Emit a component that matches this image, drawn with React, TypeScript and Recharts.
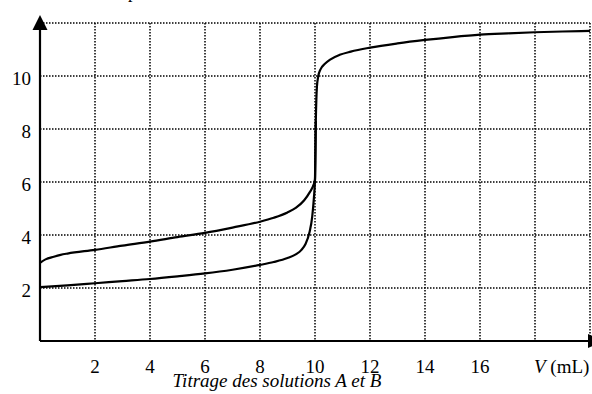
import {
  LineChart,
  Line,
  XAxis,
  YAxis,
  CartesianGrid,
  ReferenceDot,
} from "recharts";

// volume added (mL) and pH
const volA = [0, 0.2, 0.5, 0.75, 1, 2, 3, 4, 5, 6, 7, 8, 8.5, 9, 9.3, 9.6, 9.8, 9.95, 10.0, 10.03, 10.07, 10.12, 10.2, 10.35, 10.55, 10.9, 11.3, 12, 13, 14, 15, 16, 17, 18, 19, 20];
const phA = [2.95, 3.08, 3.18, 3.25, 3.3, 3.44, 3.6, 3.75, 3.92, 4.08, 4.28, 4.5, 4.65, 4.85, 5.02, 5.3, 5.6, 5.9, 6.1, 8.3, 9.6, 10.0, 10.25, 10.45, 10.62, 10.8, 10.92, 11.07, 11.23, 11.36, 11.47, 11.56, 11.61, 11.65, 11.68, 11.7];

const volB = [0, 1, 2, 3, 4, 5, 6, 7, 8, 8.5, 9, 9.3, 9.5, 9.65, 9.8, 9.9, 9.96, 10.0, 10.03];
const phB = [2.03, 2.1, 2.18, 2.26, 2.34, 2.44, 2.55, 2.69, 2.87, 2.98, 3.13, 3.27, 3.43, 3.65, 4.1, 4.7, 5.4, 6.1, 8.3];

const xTicks = [0, 2, 4, 6, 8, 10, 12, 14, 16, 18, 20];
const yTicks = [0, 2, 4, 6, 8, 10, 12];
const xLabels: Record<number, string> = { 2: "2", 4: "4", 6: "6", 8: "8", 10: "10", 12: "12", 14: "14", 16: "16" };
const yLabels: Record<number, string> = { 2: "2", 4: "4", 6: "6", 8: "8", 10: "10" };

const curveA = volA.map((v, i) => ({ v, ph: phA[i] }));
const curveB = volB.map((v, i) => ({ v, ph: phB[i] }));

const FONT = "'Liberation Serif', 'Times New Roman', serif";

function XTick({ x, y, payload }: any) {
  const val = payload.value as number;
  if (val === 18) {
    return (
      <text x={x - 1} y={y + 24} textAnchor="start" style={{ fontFamily: FONT, fontSize: 19 }} fill="#000">
        <tspan fontStyle="italic">V</tspan> (mL)
      </text>
    );
  }
  const label = xLabels[val];
  if (!label) return null;
  return (
    <text x={x} y={y + 24} textAnchor="middle" style={{ fontFamily: FONT, fontSize: 19 }} fill="#000">
      {label}
    </text>
  );
}

function YTick({ x, y, payload }: any) {
  const label = yLabels[payload.value as number];
  if (!label) return null;
  return (
    <text x={x - 1} y={y + 9} textAnchor="end" style={{ fontFamily: FONT, fontSize: 19 }} fill="#000">
      {label}
    </text>
  );
}

function UpArrow({ cx, cy }: any) {
  return <path d={`M${cx},${cy - 8} L${cx - 7.5},${cy + 7} L${cx + 7.5},${cy + 7} Z`} fill="#000" />;
}

function RightArrow({ cx, cy }: any) {
  return <path d={`M${cx - 2},${cy - 7} L${cx + 13},${cy} L${cx - 2},${cy + 7} Z`} fill="#000" />;
}

export default function App() {
  return (
    <div style={{ position: "absolute", left: 0, top: 0, width: 592, height: 394, background: "#fff" }}>
      <div style={{ position: "absolute", left: 128, top: -18, fontFamily: FONT, fontSize: 18 }}>pH</div>
      <LineChart width={592} height={394} margin={{ top: 23, right: 2, bottom: 0, left: 0 }}>
        <CartesianGrid stroke="#000" strokeWidth={1.5} strokeDasharray="1.5 1.5" />
        <XAxis
          type="number"
          dataKey="v"
          domain={[0, 20]}
          ticks={xTicks}
          tick={<XTick />}
          tickLine={false}
          axisLine={{ stroke: "#000", strokeWidth: 2.2 }}
          height={53}
          allowDataOverflow
        />
        <YAxis
          type="number"
          dataKey="ph"
          domain={[0, 12]}
          ticks={yTicks}
          tick={<YTick />}
          tickLine={false}
          axisLine={{ stroke: "#000", strokeWidth: 2.2 }}
          width={40}
          allowDataOverflow
        />
        <Line data={curveA} dataKey="ph" type="monotone" stroke="#000" strokeWidth={2.2} dot={false} isAnimationActive={false} />
        <Line data={curveB} dataKey="ph" type="monotone" stroke="#000" strokeWidth={2.2} dot={false} isAnimationActive={false} />
        <ReferenceDot x={0} y={12} ifOverflow="visible" shape={<UpArrow />} />
        <ReferenceDot x={20} y={0} ifOverflow="visible" shape={<RightArrow />} />
      </LineChart>
      <div
        style={{
          position: "absolute",
          left: 0,
          width: 554,
          top: 372,
          textAlign: "center",
          fontFamily: FONT,
          fontStyle: "italic",
          fontSize: 19,
          lineHeight: "17px",
        }}
      >
        Titrage des solutions A et B
      </div>
    </div>
  );
}
